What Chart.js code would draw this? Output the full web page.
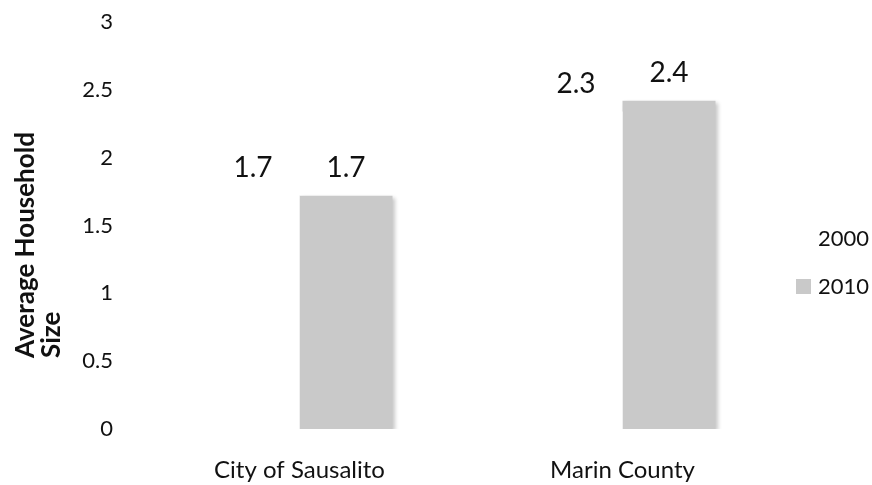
<!DOCTYPE html>
<html>
<head>
<meta charset="utf-8">
<title>Average Household Size</title>
<script src="https://cdn.jsdelivr.net/npm/chart.js@4/dist/chart.umd.min.js"></script>
<style>
  html, body { margin: 0; padding: 0; background: #fff; }
  #wrap { width: 872px; height: 485px; position: relative; }
</style>
</head>
<body>
<div id="wrap"><canvas id="hh-chart"></canvas></div>
<script>
/* ===== Average household size, 2000 vs 2010 ===== */

// Data
const CATEGORIES = ['City of Sausalito', 'Marin County'];
const SERIES_NAMES = ['2000', '2010'];
const VALUES_2000 = [1.72, 2.34];
const VALUES_2010 = [1.72, 2.42];
const Y_TICKS = [0, 0.5, 1, 1.5, 2, 2.5, 3];
const AXIS_TITLE = ['Average Household', 'Size'];

const FONT = 'Lato, "Open Sans", sans-serif';
const COLORS = {
  y2000: '#ffffff',
  y2010: '#c9c9c9',
  text:  '#111111',
};

// soft drop shadow on the grey bars, like the office chart
const barShadow = {
  id: 'barShadow',
  beforeDatasetDraw(chart, args) {
    if (args.index !== 1) return;
    const ctx = chart.ctx;
    ctx.save();
    ctx.shadowColor = 'rgba(0,0,0,0.22)';
    ctx.shadowBlur = 4;
    ctx.shadowOffsetX = 2;
    ctx.shadowOffsetY = 2;
  },
  afterDatasetDraw(chart, args) {
    if (args.index !== 1) return;
    chart.ctx.restore();
  }
};

// value labels above every bar (no datalabels plugin offline)
const valueLabels = {
  id: 'valueLabels',
  afterDatasetsDraw(chart) {
    const ctx = chart.ctx;
    ctx.save();
    ctx.font = `28px ${FONT}`;
    ctx.fillStyle = COLORS.text;
    ctx.textAlign = 'center';
    ctx.textBaseline = 'middle';
    chart.data.datasets.forEach((ds, i) => {
      chart.getDatasetMeta(i).data.forEach((bar, j) => {
        ctx.fillText(ds.data[j].toFixed(1), bar.x, bar.y - 28);
      });
    });
    ctx.restore();
  }
};

// rotated two-line axis title + right-hand legend
const sideText = {
  id: 'sideText',
  afterDraw(chart) {
    const ctx = chart.ctx;
    ctx.save();
    ctx.fillStyle = COLORS.text;
    ctx.font = `bold 26px ${FONT}`;
    ctx.textAlign = 'left';
    ctx.textBaseline = 'middle';
    AXIS_TITLE.forEach((line, i) => {
      ctx.save();
      ctx.translate(26 + i * 26, 358);
      ctx.rotate(-Math.PI / 2);
      ctx.fillText(line, 0, 0);
      ctx.restore();
    });

    ctx.font = `22px ${FONT}`;
    const lx = chart.chartArea.right + 12;
    chart.data.datasets.forEach((ds, i) => {
      const cy = 239 + i * 48;
      ctx.fillStyle = ds.backgroundColor;
      ctx.fillRect(lx, cy - 8, 15, 15);
      ctx.fillStyle = COLORS.text;
      ctx.fillText(ds.label, lx + 22, cy);
    });
    ctx.restore();
  }
};

function initChart() {
  const ctx = document.getElementById('hh-chart');

  new Chart(ctx, {
    type: 'bar',
    data: {
      labels: CATEGORIES,
      datasets: [
        {
          label: SERIES_NAMES[0],
          data: VALUES_2000,
          backgroundColor: COLORS.y2000,
          categoryPercentage: 0.576,
          barPercentage: 1,
        },
        {
          label: SERIES_NAMES[1],
          data: VALUES_2010,
          backgroundColor: COLORS.y2010,
          categoryPercentage: 0.576,
          barPercentage: 1,
        }
      ]
    },
    options: {
      responsive: true,
      maintainAspectRatio: false,
      animation: false,
      layout: { padding: { top: 22, right: 88, bottom: 0, left: 0 } },
      plugins: {
        legend: { display: false },
        tooltip: { enabled: false },
      },
      scales: {
        x: {
          grid: { display: false, drawTicks: false },
          border: { display: false },
          ticks: { color: COLORS.text, font: { family: FONT, size: 24 }, padding: 27 },
          afterFit: s => { s.height = 56; },
        },
        y: {
          min: 0, max: 3,
          grid: { display: false, drawTicks: false },
          border: { display: false },
          afterBuildTicks: s => { s.ticks = Y_TICKS.map(v => ({ value: v })); },
          ticks: { color: COLORS.text, font: { family: FONT, size: 22 }, padding: 25, callback: v => String(v) },
          // fixed gutter; drop the label overhang so the plot top sits at the layout padding
          afterFit: s => { s.width = 138; s.paddingTop = 0; s.paddingBottom = 0; },
        },
      },
    },
    plugins: [barShadow, valueLabels, sideText],
  });
}

initChart();
</script>
</body>
</html>
